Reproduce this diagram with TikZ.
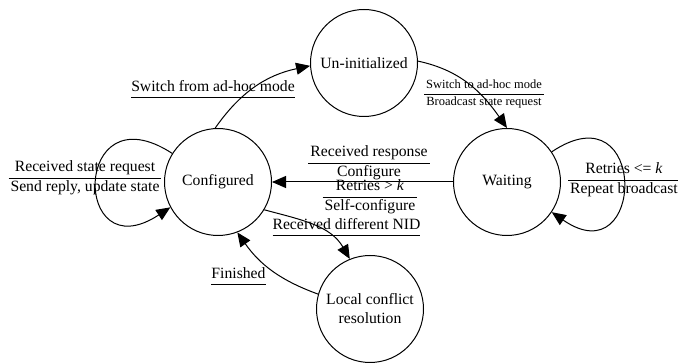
\documentclass[tikz,border=0pt]{standalone}
\usepackage{fontspec}
\setmainfont{Liberation Serif}
\usetikzlibrary{arrows.meta}
\newcommand{\mainsz}{\fontsize{15.7}{19}\selectfont}
\newcommand{\smallsz}{\fontsize{12.5}{15.5}\selectfont}
\setlength{\arrayrulewidth}{0.8pt}
\newcommand{\twolbl}[2]{{\setlength{\tabcolsep}{2pt}\begin{tabular}{c}#1\\\hline #2\end{tabular}}}
\newcommand{\onelbl}[1]{{\setlength{\tabcolsep}{0pt}\begin{tabular}{c}#1\\\hline\end{tabular}}}
\begin{document}
\begin{tikzpicture}[x=1pt,y=1pt,
  state/.style={circle,draw,line width=1pt,minimum size=107pt,inner sep=0pt,font=\mainsz},
  trans/.style={line width=1pt,-{Triangle[length=14pt,width=12pt]}},
  lbl/.style={inner sep=0pt,font=\mainsz}]
\useasboundingbox (0,0) rectangle (678,-363);
\node[state] (conf) at (218,-182) {Configured};
\node[state] (uninit) at (364,-63) {Un-initialized};
\node[state] (wait) at (507,-182) {Waiting};
\node[state,align=center] (local) at (370,-309) {Local conflict\\resolution};

\draw[trans] (conf.93) to[out=55,in=192] (uninit.183);
\draw[trans] (uninit.2) to[out=-12,in=125] (wait.90);
\draw[trans] (wait) -- (conf);
\draw[trans] (conf.148) .. controls +(-100,65) and +(-99,-65) .. (conf.208);
\draw[trans] (wait.34) .. controls +(97,65) and +(94,-65) .. (wait.-34);
\draw[trans] (conf.-31) to[out=-15,in=120] (local.112);
\draw[trans] (local.164) to[out=160,in=-55] (conf.-69);

\node[lbl,anchor=south] (l1) at (213,-98) {\onelbl{Switch from ad-hoc mode}};
\node[lbl,font=\smallsz] (l2) at (484,-94) {\twolbl{Switch to ad-hoc mode}{Broadcast state request}};
\node[lbl] (l3) at (369,-163) {\twolbl{Received response}{Configure}};
\node[lbl] (l4) at (370,-197) {\twolbl{Retries > \textit{k}}{Self-configure}};
\node[lbl] (l5) at (85,-178) {\twolbl{Received state request}{Send reply, update state}};
\node[lbl] (l6) at (624,-180) {\twolbl{Retries <= \textit{k}}{Repeat broadcast}};
\node[lbl,anchor=south] (l7) at (346.5,-236) {\onelbl{Received different NID}};
\node[lbl,anchor=south] (l8) at (238.5,-285) {\onelbl{Finished}};
\end{tikzpicture}
\end{document}
